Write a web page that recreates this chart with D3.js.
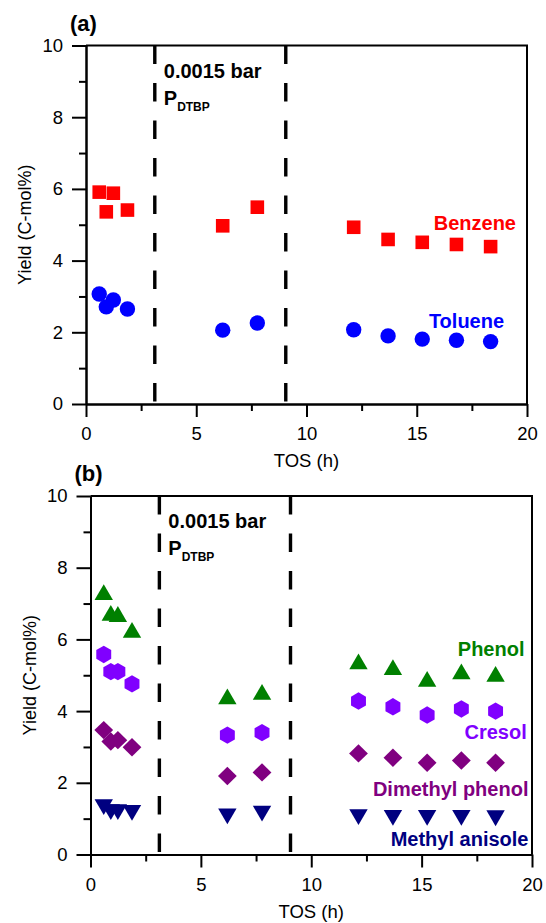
<!DOCTYPE html>
<html><head><meta charset="utf-8">
<script src="https://cdn.jsdelivr.net/npm/d3@7"></script>
<style>body{margin:0;background:#fff}svg{display:block}</style>
</head><body>
<script>
// ---- data ----
const tos = [0.6, 0.92, 1.24, 1.88, 6.2, 7.77, 12.14, 13.7, 15.25, 16.8, 18.35];
const benzene = [5.91, 5.36, 5.88, 5.41, 4.97, 5.49, 4.93, 4.59, 4.51, 4.45, 4.39];
const toluene = [3.07, 2.71, 2.90, 2.65, 2.06, 2.26, 2.07, 1.90, 1.81, 1.78, 1.74];
const phenol = [7.31, 6.73, 6.70, 6.26, 4.40, 4.53, 5.38, 5.22, 4.89, 5.10, 5.03];
const cresol = [5.58, 5.10, 5.10, 4.76, 3.33, 3.40, 4.28, 4.12, 3.89, 4.06, 4.00];
const dimethylPhenol = [3.47, 3.15, 3.19, 2.99, 2.19, 2.29, 2.82, 2.70, 2.56, 2.62, 2.56];
const methylAnisole = [1.33, 1.19, 1.19, 1.17, 1.07, 1.15, 1.05, 1.03, 1.03, 1.03, 1.02];
const dashTOS = [3.12, 9.06];
const xTicks = [0, 5, 10, 15, 20];
const xMinor = [2.5, 7.5, 12.5, 17.5];
const yTicks = [0, 2, 4, 6, 8, 10];
const yMinor = [1, 3, 5, 7, 9];

// ---- style ----
const FONT = "'Liberation Sans', Arial, Helvetica, sans-serif";
const shapes = {
  square: "M-6.8,-6.8h13.6v13.6h-13.6Z",
  circle: d3.symbol(d3.symbolCircle, Math.PI * 7.7 * 7.7)(),
  triUp: "M0,-8.2L9.2,7.6L-9.2,7.6Z",
  triDown: "M-9.2,-7.6L9.2,-7.6L0,8.2Z",
  diamond: "M0,-9.2L9.4,0L0,9.2L-9.4,0Z",
  hexagon: (() => { const r = 8.7; return "M" + d3.range(6).map(i => { const a = (-90 + 60 * i) * Math.PI / 180; return [r * Math.cos(a) * 0.99, r * Math.sin(a)].join(","); }).join("L") + "Z"; })()
};

const svg = d3.select("body").append("svg").attr("width", 546).attr("height", 923)
  .style("font-family", FONT);

function panel(cfg) {
  const x = d3.scaleLinear().domain([0, 20]).range([cfg.left, cfg.right]);
  const y = d3.scaleLinear().domain([0, 10]).range([cfg.bottom, cfg.top]);
  const g = svg.append("g");

  // dashed lines
  dashTOS.forEach(t => {
    g.append("line").attr("x1", x(t)).attr("x2", x(t)).attr("y1", cfg.top).attr("y2", cfg.bottom)
      .attr("stroke", "#000").attr("stroke-width", 3.4).attr("stroke-dasharray", "18.5,19");
  });

  // frame top & right
  g.append("path").attr("d", `M${cfg.left},${cfg.top}H${cfg.right}V${cfg.bottom}`)
    .attr("fill", "none").attr("stroke", "#000").attr("stroke-width", 2);

  // axes
  const xAx = g.append("g").attr("transform", `translate(0,${cfg.bottom})`)
    .call(d3.axisBottom(x).tickValues(xTicks).tickSize(13).tickPadding(10).tickSizeOuter(0));
  const xAxm = g.append("g").attr("transform", `translate(0,${cfg.bottom})`)
    .call(d3.axisBottom(x).tickValues(xMinor).tickSize(7).tickFormat("").tickSizeOuter(0));
  const yAx = g.append("g").attr("transform", `translate(${cfg.left},0)`)
    .call(d3.axisLeft(y).tickValues(yTicks).tickSize(14).tickPadding(9).tickSizeOuter(0));
  const yAxm = g.append("g").attr("transform", `translate(${cfg.left},0)`)
    .call(d3.axisLeft(y).tickValues(yMinor).tickSize(7).tickFormat("").tickSizeOuter(0));
  [xAx, xAxm, yAx, yAxm].forEach(a => {
    a.selectAll("path,line").attr("stroke", "#000").attr("stroke-width", 2);
    a.selectAll("text").attr("font-family", FONT).attr("font-size", 18.5).attr("fill", "#000");
  });

  // axis titles
  g.append("text").attr("x", (cfg.left + cfg.right) / 2).attr("y", cfg.bottom + 63)
    .attr("text-anchor", "middle").attr("font-size", 18.5).text("TOS (h)");
  g.append("text").attr("transform", `translate(${cfg.left - 55},${(cfg.top + cfg.bottom) / 2}) rotate(-90)`)
    .attr("text-anchor", "middle").attr("font-size", 18).text("Yield (C-mol%)");

  // panel letter
  g.append("text").attr("x", cfg.left - 16).attr("y", cfg.top - 15)
    .attr("font-size", 22).attr("font-weight", "bold").text(cfg.letter);

  // pressure annotation
  const ax = x(dashTOS[0]) + 9;
  g.append("text").attr("x", ax).attr("y", cfg.top + cfg.annoDy)
    .attr("font-size", 20).attr("font-weight", "bold").text("0.0015 bar");
  const pt = g.append("text").attr("x", ax).attr("y", cfg.top + cfg.annoDy + 27)
    .attr("font-size", 20).attr("font-weight", "bold");
  pt.append("tspan").text("P");
  pt.append("tspan").attr("font-size", 12).attr("dy", 6).text("DTBP");

  // series
  cfg.series.forEach(s => {
    g.append("g").selectAll("path").data(s.values).join("path")
      .attr("d", shapes[s.shape])
      .attr("transform", (v, i) => `translate(${x(tos[i])},${y(v)})`)
      .attr("fill", s.color);
    g.append("text").attr("x", x(s.lx)).attr("y", y(s.ly)).attr("text-anchor", "end")
      .attr("font-size", 20).attr("font-weight", "bold").attr("fill", s.color).text(s.name);
  });
}

panel({
  left: 86, right: 527, top: 45.5, bottom: 404, letter: "(a)", annoDy: 32,
  series: [
    { name: "Benzene", values: benzene, shape: "square", color: "#FF0000", lx: 19.5, ly: 4.85 },
    { name: "Toluene", values: toluene, shape: "circle", color: "#0000FF", lx: 18.96, ly: 2.11 }
  ]
});
panel({
  left: 90.5, right: 532, top: 496, bottom: 854.5, letter: "(b)", annoDy: 32,
  series: [
    { name: "Phenol", values: phenol, shape: "triUp", color: "#008000", lx: 19.66, ly: 5.54 },
    { name: "Cresol", values: cresol, shape: "hexagon", color: "#8000FF", lx: 19.76, ly: 3.21 },
    { name: "Dimethyl phenol", values: dimethylPhenol, shape: "diamond", color: "#800080", lx: 19.84, ly: 1.64 },
    { name: "Methyl anisole", values: methylAnisole, shape: "triDown", color: "#000080", lx: 19.84, ly: 0.24 }
  ]
});
</script>
</body></html>
